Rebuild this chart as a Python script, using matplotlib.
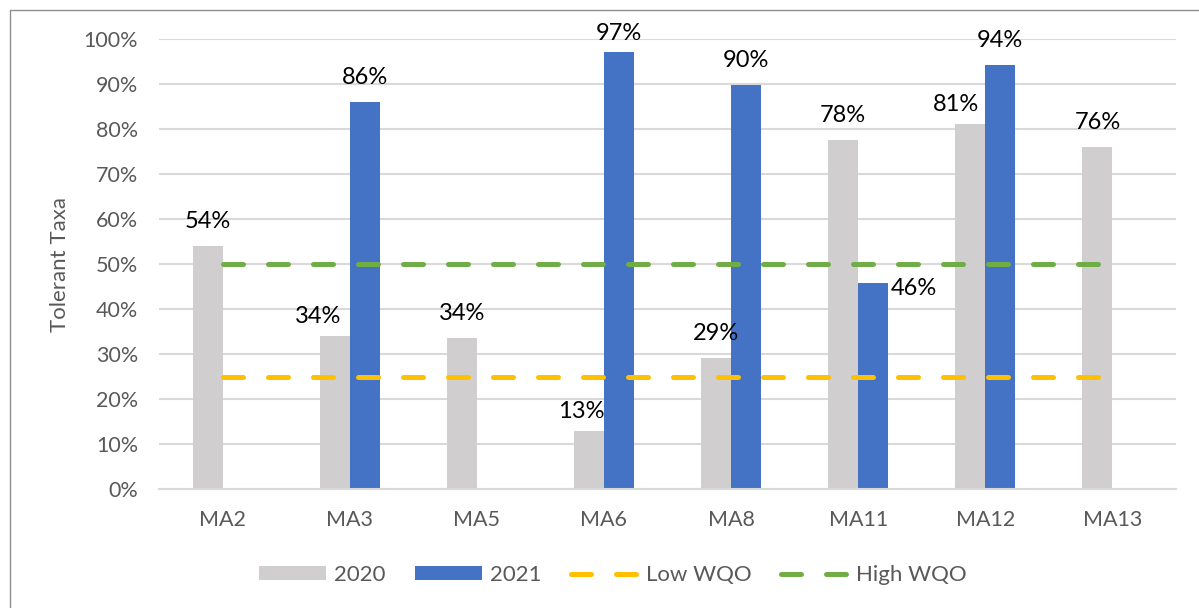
import numpy as np
import matplotlib
matplotlib.use('Agg')
import matplotlib.pyplot as plt
from matplotlib.patches import Rectangle

sites = ['MA2', 'MA3', 'MA5', 'MA6', 'MA8', 'MA11', 'MA12', 'MA13']
vals_2020 = [0.540, 0.340, 0.336, 0.130, 0.292, 0.776, 0.811, 0.760]
vals_2021 = [np.nan, 0.860, np.nan, 0.971, 0.897, 0.458, 0.942, np.nan]
low_wqo = 0.25
high_wqo = 0.50
y_ticks = [0.0, 0.1, 0.2, 0.3, 0.4, 0.5, 0.6, 0.7, 0.8, 0.9, 1.0]

GRAY = '#D0CECE'
BLUE = '#4472C4'
YELLOW = '#FFC000'
GREEN = '#70AD47'
TXT = '#595959'

plt.rcParams['font.family'] = ['Lato', 'DejaVu Sans']

W, H = 1199, 608
fig = plt.figure(figsize=(W / 100, H / 100), dpi=100, facecolor='white')

# outer chart border (Excel chart area)
fig.patches.append(Rectangle((10 / W, -0.1), 1.2, 1 - 10 / H + 0.1,
                             transform=fig.transFigure, fill=False,
                             edgecolor='#8f8f8f', linewidth=1.0))

ax = fig.add_axes([159 / W, 1 - 489 / H, (1176 - 159) / W, 450 / H])

x = np.arange(len(sites))
bw = 0.236
b1 = ax.bar(x - bw / 2, vals_2020, bw, color=GRAY, label='2020', zorder=2)
b2 = ax.bar(x + bw / 2, vals_2021, bw, color=BLUE, label='2021', zorder=2)

dash = (0, (4, 5))
l1, = ax.plot(x, [low_wqo] * len(x), color=YELLOW, lw=3.6, ls=dash,
              dash_capstyle='round', label='Low WQO', zorder=3)
l2, = ax.plot(x, [high_wqo] * len(x), color=GREEN, lw=3.6, ls=dash,
              dash_capstyle='round', label='High WQO', zorder=3)

# data labels, a few were nudged by hand in the original (pixels)
nudge_2020 = {1: (-17, -5), 3: (-8, -5), 6: (-14, -5)}
nudge_2021 = {3: (0, -6)}
lab_fs = 17

for i, v in enumerate(vals_2020):
    dx, dy = nudge_2020.get(i, (0, 0))
    ax.annotate(f'{v:.0%}', (x[i] - bw / 2, v), xytext=(dx * 0.72, (14 + dy) * 0.72),
                textcoords='offset points', ha='center', va='bottom',
                fontsize=lab_fs, color='black')
for i, v in enumerate(vals_2021):
    if np.isnan(v):
        continue
    if sites[i] == 'MA11':
        ax.annotate(f'{v:.0%}', (x[i] + bw, v), xytext=(2, -4),
                    textcoords='offset points', ha='left', va='center',
                    fontsize=lab_fs, color='black')
        continue
    dx, dy = nudge_2021.get(i, (0, 0))
    ax.annotate(f'{v:.0%}', (x[i] + bw / 2, v), xytext=(dx * 0.72, (14 + dy) * 0.72),
                textcoords='offset points', ha='center', va='bottom',
                fontsize=lab_fs, color='black')

ax.set_xlim(-0.5, len(sites) - 0.5)
ax.set_ylim(0, 1)
ax.set_yticks(y_ticks)
ax.set_yticklabels([f'{t:.0%}' for t in y_ticks])
ax.set_xticks(x)
ax.set_xticklabels(sites)
ax.tick_params(axis='both', length=0, labelsize=15.5, colors=TXT)
ax.tick_params(axis='y', pad=15)
ax.tick_params(axis='x', pad=15)
ax.grid(axis='y', color='#D9D9D9', linewidth=1.5, zorder=0)
ax.set_axisbelow(True)
for s in ['top', 'right', 'left']:
    ax.spines[s].set_visible(False)
ax.spines['bottom'].set_color('#D9D9D9')
ax.spines['bottom'].set_linewidth(1.5)

fig.text(60 / W, 1 - 264 / H, 'Tolerant Taxa', rotation=90, ha='center',
         va='center', fontsize=16, color=TXT)

fig.legend([b1, b2, l1, l2], ['2020', '2021', 'Low WQO', 'High WQO'],
           loc='center', bbox_to_anchor=(613 / W, 1 - 575 / H), ncol=4,
           frameon=False, fontsize=16, labelcolor=TXT, handlelength=3.0,
           handleheight=0.55, handletextpad=0.4, columnspacing=1.3)

fig.savefig('out.png', dpi=100, facecolor='white')
